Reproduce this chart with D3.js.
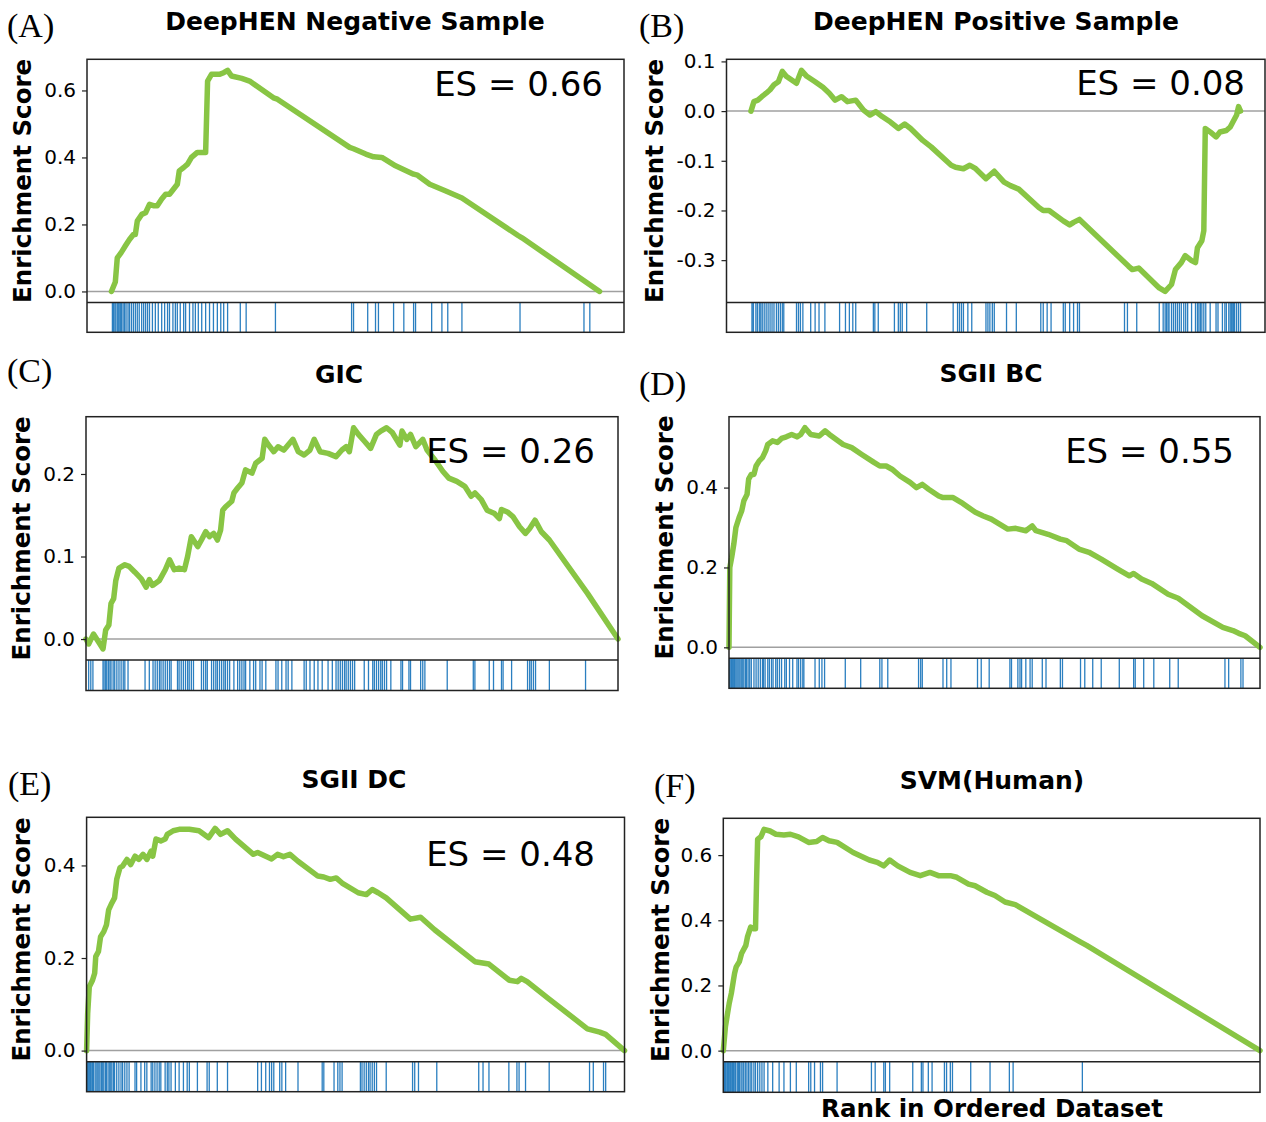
<!DOCTYPE html>
<html>
<head>
<meta charset="utf-8">
<script src="https://cdn.jsdelivr.net/npm/d3@7"></script>
<style>
  body { margin: 0; background: #fff; }
  text { font-family: "DejaVu Sans", sans-serif; }
</style>
</head>
<body>
<div class="chart"></div>
<script>
const width = 1266, height = 1122;
const N = 1000; // ranks are read as positions out of 1000

// ---- (A) DeepHEN negative sample
const negRank = [0, 8, 12, 20, 29, 37, 45, 49, 53, 62, 70, 78, 86, 94, 103, 111, 119, 127, 135, 139, 148, 156, 164, 176, 193, 197, 205, 221, 230, 238, 246, 267, 283, 332, 340, 488, 496, 521, 537, 554, 582, 619, 627, 652, 685, 718, 833, 841, 1000];
const negES = [0, 0.028, 0.10, 0.116, 0.137, 0.155, 0.17, 0.17, 0.21, 0.23, 0.235, 0.26, 0.256, 0.256, 0.276, 0.29, 0.29, 0.305, 0.32, 0.36, 0.37, 0.38, 0.40, 0.415, 0.415, 0.628, 0.648, 0.648, 0.653, 0.66, 0.643, 0.636, 0.628, 0.578, 0.574, 0.43, 0.426, 0.41, 0.402, 0.40, 0.375, 0.35, 0.347, 0.32, 0.30, 0.279, 0.167, 0.16, 0];
const negHits = [2, 4, 7, 9, 12, 14, 16, 19, 21, 24, 27, 30, 34, 37, 41, 45, 49, 53, 57, 62, 66, 70, 74, 78, 84, 90, 96, 103, 109, 115, 119, 126, 131, 135, 141, 148, 152, 160, 167, 172, 178, 185, 193, 201, 209, 217, 224, 230, 238, 264, 276, 336, 492, 496, 525, 541, 547, 578, 599, 619, 623, 656, 677, 689, 718, 837, 968, 980];
const negTicks = [0, 0.2, 0.4, 0.6];

// ---- (B) DeepHEN positive sample
const posRank = [0, 6, 14, 22, 31, 39, 47, 56, 64, 72, 93, 103, 114, 131, 147, 160, 172, 185, 197, 214, 230, 243, 255, 268, 285, 301, 314, 326, 351, 368, 409, 418, 434, 447, 459, 480, 497, 517, 530, 547, 588, 597, 609, 638, 651, 659, 671, 771, 779, 792, 834, 846, 859, 867, 879, 887, 900, 908, 912, 921, 925, 928, 938, 950, 958, 971, 979, 992, 996, 1000];
const posES = [0, 0.019, 0.022, 0.029, 0.036, 0.043, 0.053, 0.059, 0.08, 0.07, 0.056, 0.082, 0.07, 0.059, 0.048, 0.036, 0.022, 0.029, 0.019, 0.022, 0.002, -0.008, -0.001, -0.011, -0.022, -0.035, -0.026, -0.035, -0.059, -0.072, -0.109, -0.113, -0.116, -0.109, -0.116, -0.136, -0.121, -0.143, -0.15, -0.157, -0.194, -0.2, -0.2, -0.221, -0.229, -0.224, -0.218, -0.312, -0.319, -0.316, -0.356, -0.363, -0.349, -0.319, -0.305, -0.291, -0.301, -0.305, -0.275, -0.261, -0.241, -0.035, -0.042, -0.052, -0.042, -0.039, -0.032, -0.008, 0.009, 0];
const posHits = [2, 4, 5, 10, 13, 17, 20, 23, 27, 31, 35, 39, 43, 47, 52, 56, 60, 64, 67, 93, 97, 101, 106, 122, 131, 139, 151, 181, 193, 201, 208, 214, 250, 253, 260, 293, 301, 305, 309, 318, 359, 413, 422, 426, 430, 434, 443, 451, 480, 484, 488, 493, 497, 522, 542, 592, 597, 605, 613, 638, 642, 651, 659, 667, 671, 763, 769, 788, 834, 842, 846, 849, 852, 854, 859, 863, 867, 871, 875, 879, 884, 888, 892, 900, 908, 912, 915, 918, 921, 925, 929, 938, 950, 954, 963, 968, 971, 976, 979, 982, 983, 986, 988, 992, 996, 1000];
const posTicks = [-0.3, -0.2, -0.1, 0, 0.1];

// ---- (C) GIC
const gicRank = [0, 5, 14, 24, 32, 37, 43, 47, 52, 56, 62, 73, 81, 92, 104, 113, 119, 125, 138, 149, 157, 166, 175, 185, 191, 198, 210, 217, 225, 232, 240, 247, 253, 257, 262, 274, 278, 285, 293, 300, 312, 319, 331, 336, 342, 353, 361, 372, 389, 399, 410, 421, 429, 440, 455, 470, 481, 489, 495, 503, 512, 523, 535, 546, 554, 565, 576, 590, 594, 603, 610, 620, 633, 641, 656, 671, 682, 697, 712, 724, 731, 743, 754, 768, 777, 781, 792, 803, 815, 826, 834, 844, 856, 871, 943, 1000];
const gicES = [0, -0.006, 0.006, -0.004, -0.012, 0.011, 0.017, 0.043, 0.049, 0.071, 0.086, 0.09, 0.088, 0.081, 0.073, 0.063, 0.072, 0.065, 0.071, 0.084, 0.096, 0.084, 0.086, 0.084, 0.1, 0.124, 0.112, 0.12, 0.13, 0.124, 0.128, 0.12, 0.132, 0.156, 0.16, 0.167, 0.177, 0.183, 0.189, 0.205, 0.201, 0.213, 0.219, 0.242, 0.236, 0.227, 0.233, 0.229, 0.242, 0.227, 0.223, 0.229, 0.242, 0.227, 0.225, 0.221, 0.229, 0.233, 0.227, 0.256, 0.248, 0.24, 0.231, 0.248, 0.252, 0.256, 0.25, 0.235, 0.252, 0.242, 0.248, 0.233, 0.242, 0.229, 0.217, 0.203, 0.195, 0.191, 0.185, 0.173, 0.177, 0.169, 0.156, 0.152, 0.146, 0.157, 0.154, 0.148, 0.136, 0.128, 0.134, 0.144, 0.13, 0.12, 0.055, 0];
const gicHits = [5, 9, 13, 32, 34, 37, 39, 42, 45, 47, 51, 54, 58, 62, 66, 70, 73, 79, 111, 119, 126, 130, 134, 138, 141, 145, 149, 153, 157, 160, 172, 175, 179, 183, 187, 191, 194, 198, 202, 217, 221, 225, 228, 236, 240, 244, 247, 251, 255, 259, 262, 266, 270, 278, 285, 289, 293, 297, 300, 308, 315, 319, 327, 331, 338, 357, 361, 368, 376, 380, 387, 410, 414, 421, 429, 436, 444, 455, 463, 470, 474, 478, 482, 486, 489, 493, 497, 501, 505, 523, 531, 539, 542, 546, 550, 554, 557, 561, 565, 573, 592, 595, 607, 610, 629, 633, 637, 679, 728, 731, 758, 766, 781, 784, 800, 830, 834, 837, 841, 845, 871, 939];
const gicTicks = [0, 0.1, 0.2];

// ---- (D) SGII BC
const bcRank = [0, 1.5, 5, 9, 13, 19, 24, 28, 34, 37, 42, 47, 51, 57, 63, 69, 73, 82, 91, 99, 108, 118, 128, 135, 143, 154, 170, 181, 189, 215, 231, 250, 273, 284, 296, 307, 322, 341, 353, 364, 376, 395, 403, 422, 437, 464, 479, 494, 525, 540, 559, 571, 578, 601, 624, 636, 659, 678, 701, 732, 754, 762, 777, 796, 827, 846, 891, 930, 949, 960, 972, 1000];
const bcES = [0, 0.2, 0.225, 0.258, 0.3, 0.325, 0.342, 0.367, 0.383, 0.421, 0.433, 0.433, 0.454, 0.467, 0.475, 0.492, 0.508, 0.517, 0.513, 0.523, 0.527, 0.533, 0.527, 0.533, 0.55, 0.533, 0.529, 0.542, 0.533, 0.508, 0.5, 0.483, 0.463, 0.454, 0.454, 0.446, 0.429, 0.413, 0.4, 0.408, 0.396, 0.379, 0.375, 0.375, 0.363, 0.338, 0.329, 0.321, 0.296, 0.298, 0.292, 0.304, 0.292, 0.283, 0.271, 0.267, 0.246, 0.238, 0.221, 0.196, 0.179, 0.185, 0.171, 0.16, 0.133, 0.123, 0.079, 0.05, 0.042, 0.035, 0.029, 0];
const bcHits = [1, 2, 4, 5, 7, 8, 10, 11, 13, 15, 17, 19, 21, 24, 26, 28, 31, 33, 36, 39, 42, 47, 51, 55, 59, 63, 65, 68, 73, 76, 80, 83, 88, 91, 95, 99, 105, 108, 114, 120, 128, 131, 135, 139, 141, 162, 170, 175, 180, 219, 248, 284, 288, 299, 357, 361, 364, 403, 410, 418, 468, 475, 490, 529, 532, 544, 548, 551, 559, 567, 571, 590, 597, 624, 628, 662, 670, 685, 701, 735, 762, 765, 781, 800, 830, 846, 934, 941, 964, 968];
const bcTicks = [0, 0.2, 0.4];

// ---- (E) SGII DC
const dcRank = [0, 2, 5, 11, 15, 17, 22, 26, 32, 37, 41, 47, 52, 56, 62, 67, 75, 82, 90, 97, 105, 112, 120, 123, 129, 138, 146, 150, 161, 172, 191, 209, 227, 239, 249, 262, 277, 310, 318, 333, 344, 355, 366, 378, 393, 430, 441, 453, 464, 475, 505, 520, 531, 542, 557, 602, 621, 647, 722, 748, 786, 801, 808, 819, 857, 931, 954, 965, 1000];
const dcES = [0, 0.08, 0.138, 0.152, 0.167, 0.203, 0.214, 0.246, 0.257, 0.272, 0.304, 0.319, 0.33, 0.37, 0.395, 0.399, 0.413, 0.402, 0.42, 0.413, 0.424, 0.413, 0.431, 0.42, 0.457, 0.453, 0.457, 0.467, 0.475, 0.478, 0.478, 0.475, 0.46, 0.48, 0.467, 0.475, 0.457, 0.424, 0.428, 0.42, 0.414, 0.424, 0.419, 0.424, 0.409, 0.377, 0.375, 0.37, 0.373, 0.362, 0.341, 0.337, 0.348, 0.341, 0.33, 0.284, 0.288, 0.261, 0.192, 0.187, 0.152, 0.149, 0.156, 0.149, 0.114, 0.047, 0.04, 0.035, 0];
const dcHits = [1, 2, 4, 5, 7, 8, 10, 11, 13, 16, 19, 21, 23, 25, 28, 30, 32, 35, 37, 40, 43, 45, 47, 50, 52, 56, 60, 64, 67, 71, 75, 79, 90, 93, 101, 108, 112, 120, 123, 127, 131, 135, 138, 146, 150, 153, 157, 165, 172, 180, 187, 191, 206, 224, 228, 243, 262, 318, 325, 333, 340, 344, 348, 359, 363, 370, 393, 438, 441, 460, 467, 471, 475, 509, 512, 516, 520, 524, 527, 531, 535, 539, 557, 606, 610, 617, 651, 729, 737, 748, 785, 800, 804, 816, 860, 935, 942, 961, 965];
const dcTicks = [0, 0.2, 0.4];

// ---- (F) SVM(Human)
const svmRank = [0, 4, 8, 11, 15, 19, 21, 24, 30, 34, 42, 45, 51, 57, 60, 62, 64, 70, 76, 87, 98, 113, 125, 140, 159, 174, 185, 197, 212, 242, 272, 287, 299, 310, 325, 348, 367, 385, 401, 423, 435, 457, 469, 491, 506, 525, 544, 665, 677, 1000];
const svmES = [0, 0.074, 0.115, 0.145, 0.176, 0.217, 0.237, 0.257, 0.273, 0.298, 0.323, 0.349, 0.379, 0.374, 0.374, 0.522, 0.649, 0.656, 0.679, 0.674, 0.664, 0.662, 0.664, 0.656, 0.639, 0.642, 0.654, 0.644, 0.639, 0.608, 0.585, 0.578, 0.567, 0.585, 0.567, 0.547, 0.537, 0.547, 0.537, 0.537, 0.532, 0.511, 0.506, 0.486, 0.476, 0.456, 0.448, 0.334, 0.323, 0];
const svmHits = [1, 2, 4, 5, 7, 8, 10, 11, 13, 14, 16, 17, 19, 20, 22, 23, 26, 28, 30, 33, 35, 38, 41, 44, 47, 50, 53, 57, 60, 64, 68, 72, 76, 83, 92, 104, 113, 125, 136, 159, 163, 170, 181, 185, 212, 276, 283, 299, 302, 310, 353, 369, 372, 382, 389, 412, 416, 423, 427, 461, 497, 533, 540, 669];
const svmTicks = [0, 0.2, 0.4, 0.6];

const panelLetters = ["(A)", "(B)", "(C)", "(D)", "(E)", "(F)"];
const panelTitles = ["DeepHEN Negative Sample", "DeepHEN Positive Sample", "GIC", "SGII BC", "SGII DC", "SVM(Human)"];
const esLabels = ["ES = 0.66", "ES = 0.08", "ES = 0.26", "ES = 0.55", "ES = 0.48", null];

const panels = [
  { rank: negRank, es: negES, hits: negHits, ticks: negTicks },
  { rank: posRank, es: posES, hits: posHits, ticks: posTicks },
  { rank: gicRank, es: gicES, hits: gicHits, ticks: gicTicks },
  { rank: bcRank, es: bcES, hits: bcHits, ticks: bcTicks },
  { rank: dcRank, es: dcES, hits: dcHits, ticks: dcTicks },
  { rank: svmRank, es: svmES, hits: svmHits, ticks: svmTicks }
];

// boxes: x0,x1 plot edges; y0 top, yd divider (main/strip), y1 strip bottom
const layout = [
  { x0: 87,    x1: 624,  y0: 59.3,  yd: 302.5,  y1: 332.3,  xPad: 0.05, lx: 7,   ly: 37,  tx: 355, ty: 30,  yl: 30.5, esx: 603,  esy: 96 },
  { x0: 726.5, x1: 1265, y0: 59.3,  yd: 302.5,  y1: 332.3,  xPad: 0.05, lx: 639, ly: 37,  tx: 996, ty: 29.5, yl: 662.5, esx: 1245, esy: 95 },
  { x0: 86,    x1: 618,  y0: 416.7, yd: 660,    y1: 690.5,  xPad: 0,    lx: 7,   ly: 382, tx: 339, ty: 383, yl: 30,   esx: 595,  esy: 463 },
  { x0: 729,   x1: 1260, y0: 416.7, yd: 658.3,  y1: 688.3,  xPad: 0,    lx: 639, ly: 395, tx: 991, ty: 381.5, yl: 672.5, esx: 1234, esy: 463 },
  { x0: 86.6,  x1: 624.5, y0: 817.3, yd: 1061.7, y1: 1091.7, xPad: 0,   lx: 8,   ly: 795, tx: 354, ty: 788, yl: 30,   esx: 595,  esy: 866 },
  { x0: 723.3, x1: 1260, y0: 818.3, yd: 1061.7, y1: 1092.3, xPad: 0,    lx: 654, ly: 797, tx: 992, ty: 789, yl: 668.5, esx: 0,    esy: 0 }
];

const svg = d3.select(".chart")
    .append("svg")
    .attr("width", width)
    .attr("height", height);

function drawPanel(p, L, i) {
    const g = svg.append("g");

    const x = d3.scaleLinear()
        .domain([-L.xPad * N, N + L.xPad * N])
        .range([L.x0, L.x1]);

    const [lo, hi] = d3.extent(p.es);
    const m = (hi - lo) * 0.05;
    const y = d3.scaleLinear()
        .domain([lo - m, hi + m])
        .range([L.yd, L.y0]);

    // zero line
    g.append("line")
        .attr("x1", L.x0).attr("x2", L.x1)
        .attr("y1", y(0)).attr("y2", y(0))
        .attr("stroke", "#a0a0a0")
        .attr("stroke-width", 1.5);

    // hit strip
    g.selectAll("line.hit")
        .data(p.hits)
        .join("line")
        .attr("class", "hit")
        .attr("x1", d => x(d)).attr("x2", d => x(d))
        .attr("y1", L.yd).attr("y2", L.y1)
        .attr("stroke", "#2b7fc0")
        .attr("stroke-width", 1.3);

    // running enrichment score
    const line = d3.line()
        .x((d, k) => x(p.rank[k]))
        .y(d => y(d));
    g.append("path")
        .datum(p.es)
        .attr("d", line)
        .attr("fill", "none")
        .attr("stroke", "#88C544")
        .attr("stroke-width", 5.5)
        .attr("stroke-linejoin", "round")
        .attr("stroke-linecap", "round");

    // y axis
    const axis = d3.axisLeft(y)
        .tickValues(p.ticks)
        .tickSize(5)
        .tickPadding(6)
        .tickFormat(d => d.toFixed(1));
    const ax = g.append("g")
        .attr("transform", `translate(${L.x0},0)`)
        .call(axis);
    ax.select(".domain").remove();
    ax.selectAll(".tick line").attr("stroke", "#222").attr("stroke-width", 1.2);
    ax.selectAll(".tick text")
        .attr("font-family", "DejaVu Sans")
        .attr("font-size", 20)
        .attr("fill", "#000");

    // frames
    g.append("rect")
        .attr("x", L.x0).attr("y", L.y0)
        .attr("width", L.x1 - L.x0).attr("height", L.y1 - L.y0)
        .attr("fill", "none").attr("stroke", "#222").attr("stroke-width", 1.5);
    g.append("line")
        .attr("x1", L.x0).attr("x2", L.x1)
        .attr("y1", L.yd).attr("y2", L.yd)
        .attr("stroke", "#222").attr("stroke-width", 1.5);

    // texts
    g.append("text")
        .attr("x", L.lx).attr("y", L.ly)
        .style("font-family", "'Liberation Serif', serif")
        .attr("font-size", 34)
        .text(panelLetters[i]);

    g.append("text")
        .attr("x", L.tx).attr("y", L.ty)
        .attr("text-anchor", "middle")
        .attr("font-size", 25)
        .attr("font-weight", "bold")
        .text(panelTitles[i]);

    g.append("text")
        .attr("transform", `translate(${L.yl},${(L.y0 + L.yd) / 2}) rotate(-90)`)
        .attr("text-anchor", "middle")
        .attr("font-size", 24.5)
        .attr("font-weight", "bold")
        .text("Enrichment Score");

    if (esLabels[i]) {
        g.append("text")
            .attr("x", L.esx).attr("y", L.esy)
            .attr("text-anchor", "end")
            .attr("font-size", 34)
            .text(esLabels[i]);
    }
}

panels.forEach((p, i) => drawPanel(p, layout[i], i));

svg.append("text")
    .attr("x", 992).attr("y", 1117)
    .attr("text-anchor", "middle")
    .attr("font-size", 24.5)
    .attr("font-weight", "bold")
    .text("Rank in Ordered Dataset");
</script>
</body>
</html>
